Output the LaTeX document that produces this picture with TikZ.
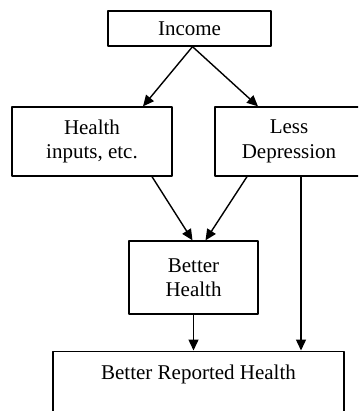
\documentclass[tikz,border=0pt]{standalone}
\usepackage{fontspec}
\setmainfont{Liberation Serif}
\usetikzlibrary{arrows.meta}

\tikzset{box/.style={draw,line width=1.3pt,inner sep=3pt,align=center,font=\fontsize{21}{24.5}\selectfont}}

\begin{document}
\begin{tikzpicture}[line cap=round,line join=round,>={Triangle[length=11pt,width=10pt]},x=1pt,y=-1pt]
      \useasboundingbox (0,0) rectangle (358,411);
      \clip (0,0) rectangle (358,411);

      \node[box,minimum width=163pt,minimum height=35pt] (income) at (189.5,28.5) {Income};
      \node[box,minimum width=160pt,minimum height=69pt] (inputs) at (92,141.5) {Health\\inputs, etc.};
      \node[box,minimum width=148pt,minimum height=69pt] (depression) at (289,141.5) {Less\\Depression};
      \node[box,minimum width=129pt,minimum height=73pt] (better) at (193.5,277.5) {Better\\Health};
      \node[box,anchor=north,minimum width=291pt,text height=25.5pt,text depth=70pt] (reported) at (198.5,350.5) {Better Reported Health};

      \draw[->,line width=1.4pt] ([xshift=3pt]income.south) -- ([xshift=51pt]inputs.north);
      \draw[->,line width=1.4pt] ([xshift=3pt]income.south) -- ([xshift=-31pt]depression.north);
      \draw[->,line width=1.4pt] ([xshift=60pt]inputs.south) -- ([xshift=-1pt]better.north);
      \draw[->,line width=1.4pt] ([xshift=-42pt]depression.south) -- ([xshift=12pt]better.north);
      \draw[->,line width=1.4pt] (better.south) -- (better.south |- reported.north);
      \draw[->,line width=1.4pt] ([xshift=12pt]depression.south) -- ([xshift=12pt]depression.south |- reported.north);
\end{tikzpicture}
\end{document}
